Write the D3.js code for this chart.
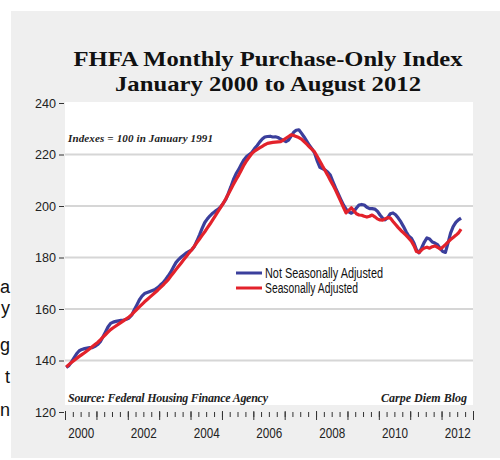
<!DOCTYPE html>
<html><head><meta charset="utf-8">
<script src="https://cdn.jsdelivr.net/npm/d3@7/dist/d3.min.js"></script>
<style>body{margin:0;background:#fff}svg{display:block}</style>
</head><body>
<svg id="c" width="500" height="460"></svg>
<script>
// ---- data ----
const titleLines = ["FHFA Monthly Purchase-Only Index", "January 2000 to August 2012"];
const noteText = "Indexes = 100 in January 1991";
const sourceText = "Source: Federal Housing Finance Agency";
const creditText = "Carpe Diem Blog";
const seriesNames = ["Not Seasonally Adjusted", "Seasonally Adjusted"];
const yTicks = [120, 140, 160, 180, 200, 220, 240];
const xLabelYears = [2000, 2002, 2004, 2006, 2008, 2010, 2012];
const firstMonth = "2000-01";
const sideLetters = ["a", "y", "g", "t", "n"];
// Not seasonally adjusted, monthly Jan 2000 - Aug 2012
const nsa = [
137.3,138.0,139.4,141.0,142.6,143.8,144.3,144.6,144.8,145.0,145.0,145.5,
146.2,147.3,149.0,151.0,153.0,154.4,154.9,155.2,155.4,155.6,155.7,156.0,
156.5,157.6,159.5,161.5,163.5,165.0,166.0,166.4,166.8,167.2,167.6,168.3,
169.3,170.2,171.4,172.8,174.3,176.2,178.0,179.2,180.2,181.0,181.8,182.4,
183.0,184.3,186.4,188.8,191.3,193.6,195.0,196.2,197.2,198.0,198.7,199.6,
201.0,202.6,204.8,207.5,210.3,212.6,214.2,216.2,218.0,219.2,220.0,220.8,
222.3,223.5,224.8,226.0,226.8,227.0,227.1,226.8,226.9,226.6,226.0,225.5,
225.0,225.6,227.0,228.6,229.4,229.6,228.3,226.8,225.2,223.6,222.2,220.6,
217.5,215.0,214.5,214.0,213.2,212.0,209.5,207.0,204.8,202.6,200.4,198.8,
197.7,197.2,197.8,199.2,200.4,200.6,200.4,199.5,199.0,199.0,198.8,198.0,
196.5,195.2,194.6,195.5,197.0,197.3,196.6,195.3,193.8,192.0,190.0,188.3,
187.5,185.5,183.0,181.8,183.8,186.0,187.6,187.2,186.0,185.6,185.0,183.5,
182.3,182.0,185.5,189.5,192.0,193.6,194.6,195.3
];
// Seasonally adjusted
const sa = [
137.5,138.4,139.2,140.0,140.8,141.6,142.3,143.0,143.8,144.6,145.4,146.2,
147.0,148.0,149.0,150.0,151.0,152.0,152.7,153.4,154.1,154.8,155.5,156.2,
156.9,157.8,158.8,159.8,160.8,161.8,162.8,163.7,164.6,165.5,166.4,167.3,
168.3,169.3,170.3,171.3,172.7,174.0,175.3,176.6,177.9,179.2,180.5,181.8,
183.0,184.4,185.8,187.2,188.6,190.0,191.5,193.0,194.6,196.2,197.8,199.4,
201.0,202.8,204.6,206.5,208.4,210.3,212.0,214.0,216.0,217.6,219.0,220.4,
221.3,222.0,222.6,223.2,223.8,224.3,224.5,224.7,224.8,224.9,225.0,225.6,
226.3,227.0,227.6,227.4,227.0,226.6,226.0,225.0,224.0,223.0,222.0,221.0,
219.2,217.4,215.6,213.8,212.0,210.0,208.2,206.2,204.0,201.8,199.5,197.3,
198.3,199.3,198.2,197.0,196.5,196.4,196.0,195.7,196.0,196.5,195.8,195.0,
194.6,194.5,195.0,195.5,195.3,194.0,192.8,191.6,190.5,189.6,188.6,187.5,
186.3,184.5,182.3,182.0,183.0,183.7,184.0,183.6,184.2,184.5,184.0,183.3,
184.0,185.0,186.0,187.0,187.8,188.6,189.5,191.0
];
const colors = ["#3b3f9c", "#e3222b"];

// ---- drawing ----
const svg = d3.select("#c");
const sans = "'Liberation Sans',Arial,sans-serif";
const serif = "'Liberation Serif','Times New Roman',serif";

// side fragments of neighbouring article text
const sideY = [293, 314, 351, 383, 416];
svg.selectAll("text.side").data(sideLetters).join("text")
  .attr("class","side").attr("x", 10).attr("y", (d,i)=>sideY[i])
  .attr("text-anchor","end").attr("font-family",sans)
  .attr("font-size", 18).attr("fill","#111").text(d=>d);

svg.append("rect").attr("x",11).attr("y",11).attr("width",489).attr("height",447).attr("fill","#efefef");

const parse = d3.timeParse("%Y-%m");
const t0 = parse(firstMonth);
const dateAt = i => new Date(t0.getFullYear(), t0.getMonth() + i, 15);

const x = d3.scaleTime().domain([new Date(2000,0,1), new Date(2013,0,1)]).range([65, 473]);
const y = d3.scaleLinear().domain([120, 240]).range([412, 103]);

svg.append("rect").attr("x",65).attr("y",102).attr("width",408).attr("height",303).attr("fill","#fff");

// gridlines
svg.append("g").selectAll("line").data(yTicks.filter(v=>v>120 && v<240)).join("line")
  .attr("x1",65).attr("x2",473).attr("y1",d=>y(d)).attr("y2",d=>y(d))
  .attr("stroke","#d6d6d6").attr("stroke-width",2);

// title
const tw = [389, 306], tyy = [66, 91];
svg.selectAll("text.title").data(titleLines).join("text").attr("class","title")
  .attr("x", 268).attr("y",(d,i)=>tyy[i]).attr("text-anchor","middle")
  .attr("font-family", serif).attr("font-weight","bold").attr("font-size",22)
  .attr("fill","#111").attr("textLength",(d,i)=>tw[i]).attr("lengthAdjust","spacingAndGlyphs")
  .text(d=>d);

// y axis
const ya = svg.append("g").attr("transform","translate(64,0)")
  .call(d3.axisLeft(y).tickValues(yTicks).tickSize(5).tickPadding(3).tickFormat(d3.format("d")));
ya.select(".domain").remove();
ya.selectAll("line").attr("stroke","#333");
ya.selectAll("text").attr("font-family",sans).attr("font-size",13.5).attr("fill","#222")
  .attr("textLength",21).attr("lengthAdjust","spacingAndGlyphs");

// x axis ticks
const xm = svg.append("g").attr("transform","translate(0,412)")
  .call(d3.axisBottom(x).ticks(d3.timeMonth.every(3)).tickSize(5).tickFormat(""));
xm.select(".domain").remove();
xm.selectAll("line").attr("stroke","#333");
const xM = svg.append("g").attr("transform","translate(0,411)")
  .call(d3.axisBottom(x).ticks(d3.timeYear.every(1)).tickSize(9).tickFormat(""));
xM.select(".domain").remove();
xM.selectAll("line").attr("stroke","#333");
const xl = svg.append("g").attr("transform","translate(0,412)")
  .call(d3.axisBottom(x).tickValues(xLabelYears.map(yr=>new Date(yr,6,1))).tickSize(0).tickPadding(15).tickFormat(d3.timeFormat("%Y")));
xl.select(".domain").remove();
xl.selectAll("text").attr("font-family",sans).attr("font-size",15).attr("fill","#222")
  .attr("textLength",26).attr("lengthAdjust","spacingAndGlyphs");

// notes
svg.append("text").attr("x",68).attr("y",142).attr("font-family",serif).attr("font-style","italic")
  .attr("font-weight","bold").attr("font-size",11).attr("fill","#222").attr("textLength",145).text(noteText);
svg.append("text").attr("x",68).attr("y",402).attr("font-family",serif).attr("font-style","italic")
  .attr("font-weight","bold").attr("font-size",12).attr("fill","#222").attr("textLength",200).text(sourceText);
svg.append("text").attr("x",467).attr("y",402).attr("text-anchor","end").attr("font-family",serif).attr("font-style","italic")
  .attr("font-weight","bold").attr("font-size",12).attr("fill","#222").text(creditText);

// lines
const line = d3.line().x((d,i)=>x(dateAt(i))).y(d=>y(d));
[nsa, sa].forEach((s,k)=>{
  svg.append("path").datum(s).attr("d",line).attr("fill","none")
    .attr("stroke",colors[k]).attr("stroke-width",3.2).attr("stroke-linejoin","round");
});

// legend
const legW = [118, 93];
const lg = svg.append("g");
seriesNames.forEach((n,k)=>{
  lg.append("line").attr("x1",236).attr("x2",262).attr("y1",273+15*k).attr("y2",273+15*k)
    .attr("stroke",colors[k]).attr("stroke-width",3);
  lg.append("text").attr("x",265).attr("y",278+15*k).attr("font-family",sans)
    .attr("font-size",14).attr("fill","#111")
    .attr("textLength",legW[k]).attr("lengthAdjust","spacingAndGlyphs").text(n);
});
</script>
</body></html>
